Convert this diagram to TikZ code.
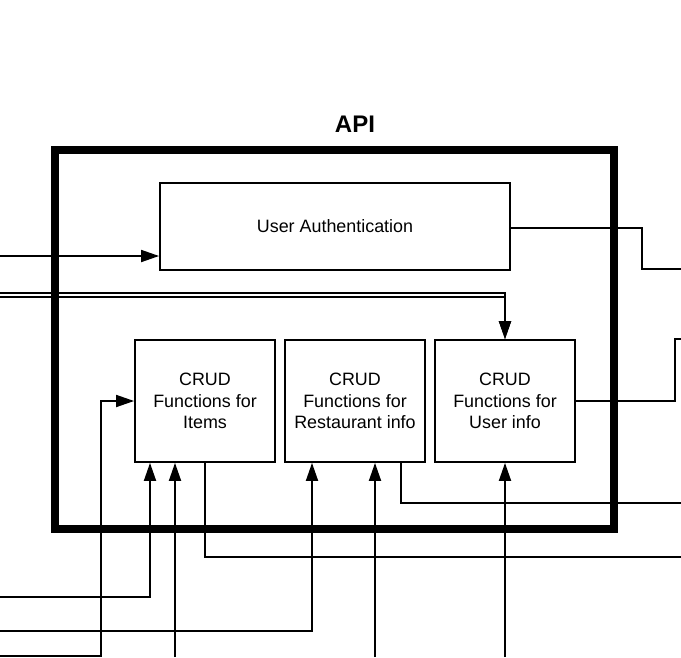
\documentclass[tikz,border=0pt]{standalone}
\usepackage{fontspec}
\setmainfont{Liberation Sans}
\usetikzlibrary{arrows.meta}

\begin{document}
\begin{tikzpicture}[x=1pt,y=-1pt,line width=1.8pt,
  >={Triangle[length=18pt,width=12pt]},
  box/.style={draw,line width=1.8pt,inner sep=0pt,minimum width=140pt,minimum height=122pt,
    align=center,font=\fontsize{17.9}{21.5}\selectfont},
  authbox/.style={box,minimum width=350pt,minimum height=87pt},
  frame/.style={draw,line width=7.5pt,inner sep=0pt,minimum width=559pt,minimum height=379pt},
  title/.style={font=\bfseries\fontsize{24}{28}\selectfont}]
  \useasboundingbox (0,0) rectangle (681,657);

  \node[frame] (api) at (334.5,339.5){};
  \node[title] (apiname) at (355,124){API};

  \node[authbox] (auth) at (335,226.5){User Authentication};
  \node[box] (items) at (205,401){CRUD\\Functions for\\Items};
  \node[box] (rest) at (355,401){CRUD\\Functions for\\Restaurant info};
  \node[box] (user) at (505,401){CRUD\\Functions for\\User info};

  \coordinate (in1) at (0,256);
  \coordinate (in2) at (0,293);
  \coordinate (in3) at (0,297);
  \coordinate (in4) at (0,656);
  \coordinate (in5) at (0,597);
  \coordinate (in6) at (175,657);
  \coordinate (in7) at (0,631);
  \coordinate (in8) at (375,657);
  \coordinate (in9) at (505,657);
  \coordinate (j1) at (642,269);
  \coordinate (j2) at (675,339);
  \coordinate (j4) at (101,656);
  \coordinate (out1) at (681,269);
  \coordinate (out2) at (681,339);
  \coordinate (out3) at (681,557);
  \coordinate (out4) at (681,503);

  \draw[->] (in1) -- (in1 -| auth.west);
  \draw[->] (in2) -| (user.north);
  \draw[->] (in3) -| (user.north);
  \draw ([yshift=-1.5pt]auth.east) -| (j1) -- (out1);
  \draw (user.east) -| (j2) -- (out2);

  \draw[->] (in4) -- (j4) |- (items.west);
  \draw[->] (in5) -| ([xshift=-55pt]items.south);
  \draw[->] (in6) -- (in6 |- items.south);
  \draw (items.south) |- (out3);

  \draw[->] (in7) -| ([xshift=-43pt]rest.south);
  \draw[->] (in8) -- (in8 |- rest.south);
  \draw ([xshift=46pt]rest.south) |- (out4);

  \draw[->] (in9) -- (user.south);
\end{tikzpicture}
\end{document}
